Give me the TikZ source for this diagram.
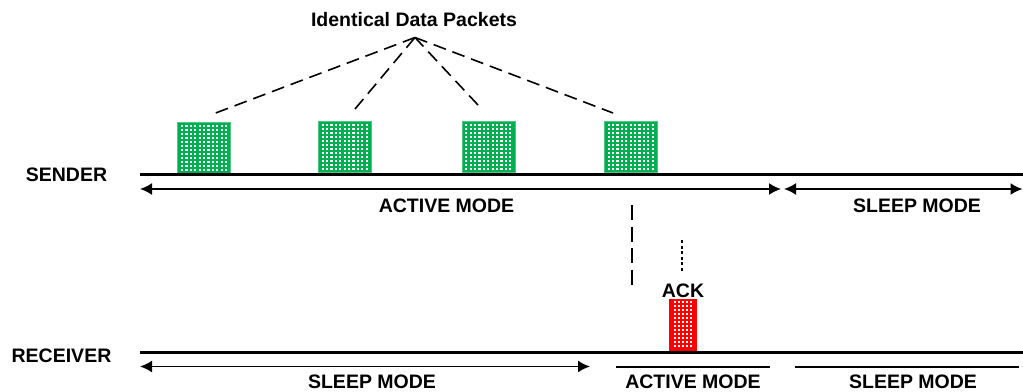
\documentclass[tikz,border=0pt]{standalone}
\usepackage{fontspec}
\setmainfont{Liberation Sans}
\usetikzlibrary{arrows.meta}
\definecolor{pktgreen}{RGB}{0,176,80}
\definecolor{ackred}{RGB}{255,0,0}
\tikzset{
  lbl/.style={font=\fontsize{19.5}{20}\selectfont\bfseries, inner sep=0pt, anchor=base},
  timeline/.style={line width=3pt},
  span/.style={line width=1.8pt, {Latex[length=12pt,width=12pt]}-{Latex[length=12pt,width=12pt]}},
  plainspan/.style={line width=1.8pt},
  pkt/.style={fill=pktgreen, draw=pktgreen!70!white, line width=0.6pt, minimum width=53pt, minimum height=51pt, inner sep=0pt, anchor=north west},
  ackbox/.style={fill=ackred, draw=ackred, line width=0.6pt, minimum width=27pt, minimum height=52pt, inner sep=0pt, anchor=north west},
  lead/.style={line width=1.6pt, dash pattern=on 13pt off 7pt},
  vdash/.style={line width=1.6pt, dash pattern=on 15pt off 6.5pt},
  vdot/.style={line width=2.6pt, dash pattern=on 3pt off 2.5pt},
}
\begin{document}
\begin{tikzpicture}[x=1pt, y=-1pt]
\useasboundingbox (0,0) rectangle (1023,391);
% labels
\node[lbl] (title) at (414,26.7) {Identical Data Packets};
\node[lbl] (sender) at (66.5,181) {SENDER};
\node[lbl] (receiver) at (61.5,362) {RECEIVER};
\node[lbl] (actT) at (446.5,212) {ACTIVE MODE};
\node[lbl] (slpT) at (917,212) {SLEEP MODE};
\node[lbl] (ack) at (683,297.5) {ACK};
\node[lbl] (slpB1) at (372,388) {SLEEP MODE};
\node[lbl] (actB) at (693,388) {ACTIVE MODE};
\node[lbl] (slpB2) at (913,388) {SLEEP MODE};
% packets
\node[pkt] (p1) at (177.3,121.5) {};
\node[pkt] (p2) at (318,121) {};
\node[pkt] (p3) at (461.5,121) {};
\node[pkt] (p4) at (604,121) {};
\foreach \p in {p1,p2,p3,p4}{
  \foreach \i in {0,...,10}{
    \foreach \j in {0,...,11}{
      \fill[white] ([shift={(3.6+\i*4.4,3.2+\j*4.0)}]\p.north west) rectangle ++(2.2,2.2);
    }
  }
}
\node[ackbox] (ackpkt) at (669,298.5) {};
\foreach \i in {0,...,4}{
  \foreach \j in {0,...,11}{
    \fill[white] ([shift={(4.5+\i*4.0,2.5+\j*4.0)}]ackpkt.north west) rectangle ++(2,2);
  }
}
% timelines
\coordinate (sL) at (140,174);
\coordinate (sR) at (1023,174);
\coordinate (rL) at (140,352.5);
\coordinate (rR) at (1023,352.5);
\draw[timeline] (sL) -- (sR);
\draw[timeline] (rL) -- (rR);
% sender spans
\coordinate (a1) at (140,189);
\coordinate (a2) at (781,189);
\coordinate (a3) at (784,189);
\coordinate (a4) at (1022.5,189);
\draw[span] (a1) -- (a2);
\draw[span] (a3) -- (a4);
% receiver spans
\coordinate (b1) at (140,366.5);
\coordinate (b2) at (590,366.5);
\coordinate (b3) at (616,367);
\coordinate (b4) at (770,367);
\coordinate (b5) at (795,367);
\coordinate (b6) at (1019,367);
\draw[span] (b1) -- (b2);
\draw[plainspan] (b3) -- (b4);
\draw[plainspan] (b5) -- (b6);
% leader lines
\coordinate (apex) at (415,37.5);
\coordinate (e1) at (213,114);
\coordinate (e2) at (355,109);
\coordinate (e3) at (478,105);
\coordinate (e4) at (613,113);
\draw[lead] (apex) -- (e1);
\draw[lead] (e2) -- (apex);
\draw[lead] (e3) -- (apex);
\draw[lead] (apex) -- (e4);
% vertical dashed & dotted
\coordinate (v1) at (632,205);
\coordinate (v2) at (632,285);
\draw[vdash] (v1) -- (v2);
\coordinate (d1) at (682,240);
\coordinate (d2) at (682,272);
\draw[vdot] (d1) -- (d2);
\end{tikzpicture}
\end{document}
